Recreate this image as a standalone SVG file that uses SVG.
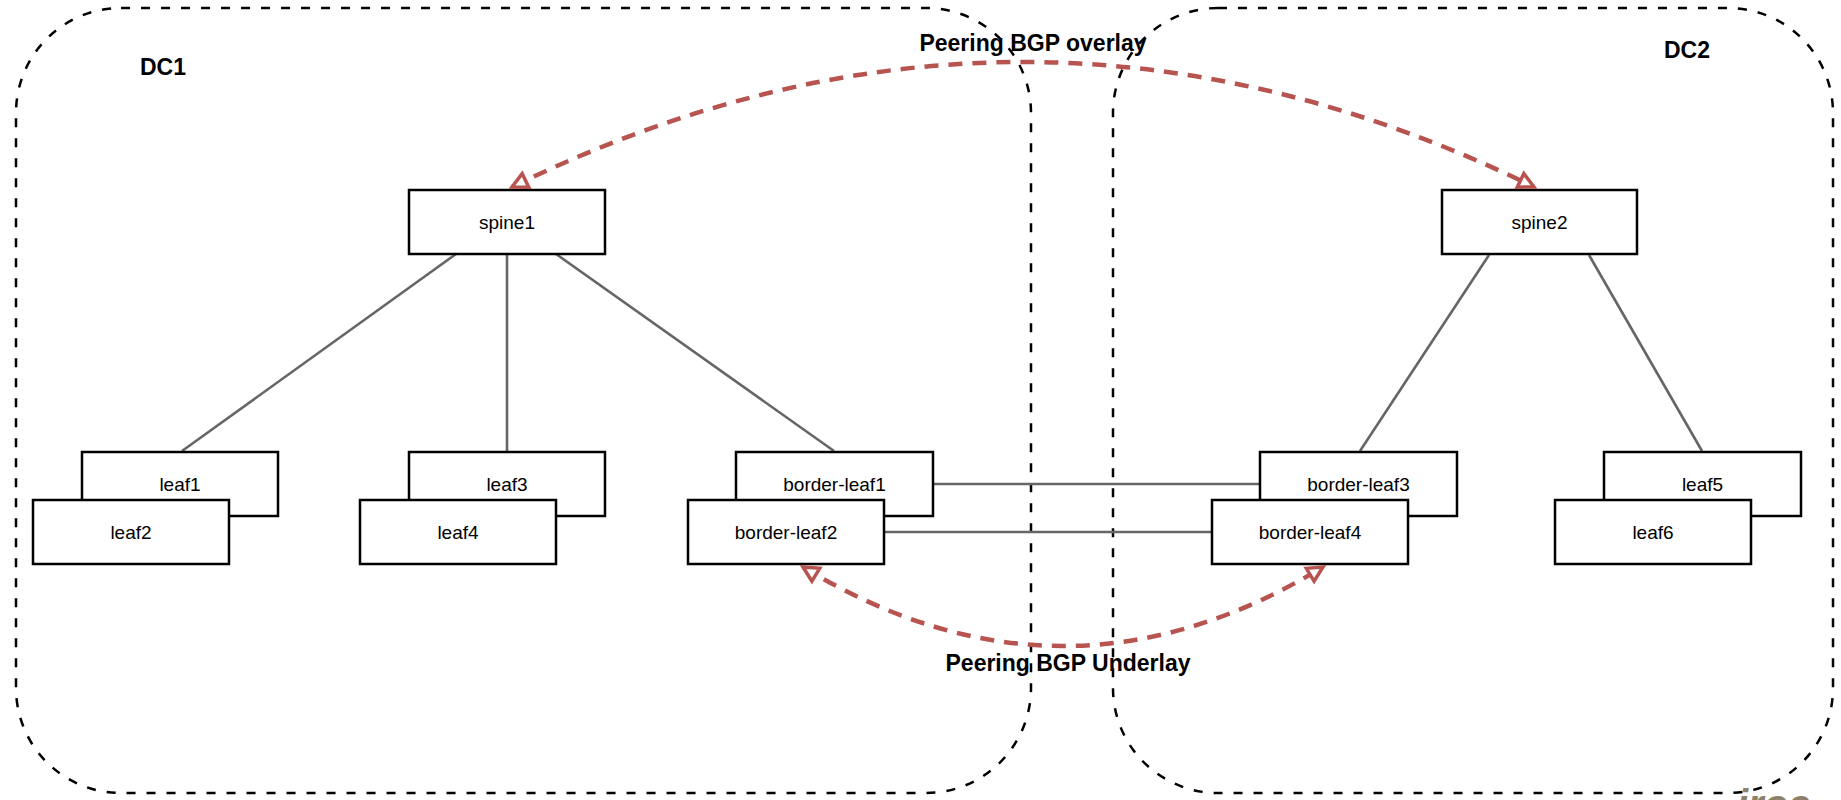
<svg xmlns="http://www.w3.org/2000/svg" width="1841" height="800" viewBox="0 0 1841 800">
<style>
.dc{fill:none;stroke:#000;stroke-width:2.5;stroke-dasharray:9 11}
.dcl{font-family:"Liberation Sans",Arial,sans-serif;font-size:23px;font-weight:bold;fill:#000}
.box{fill:#fff;stroke:#000;stroke-width:2.5}
.lbl{font-family:"Liberation Sans",Arial,sans-serif;font-size:19px;fill:#000;text-anchor:middle}
.link{fill:none;stroke:#666;stroke-width:2.6}
.peer{fill:none;stroke:#b85450;stroke-width:4.5;stroke-dasharray:14 10;marker-start:url(#ah);marker-end:url(#ah)}
.plbl{font-family:"Liberation Sans",Arial,sans-serif;font-size:23px;font-weight:bold;fill:#000;text-anchor:middle}
</style>
<defs>
<marker id="ah" markerUnits="userSpaceOnUse" markerWidth="24" markerHeight="24" viewBox="0 0 24 24" refX="19" refY="12" orient="auto-start-reverse">
<path d="M4,4.5 L19,12 L4,19.5 Z" fill="#fff" stroke="#b85450" stroke-width="3.5"/>
</marker>
</defs>
<g id="containers">
<g id="dc1"><rect class="dc" x="16" y="8" width="1015" height="785" rx="105" ry="105"/><text class="dcl" x="140" y="75">DC1</text></g>
<g id="dc2"><rect class="dc" x="1113" y="8" width="720" height="785" rx="105" ry="105"/><text class="dcl" x="1664" y="58">DC2</text></g>
</g>
<g id="links">
<line class="link" x1="456" y1="254" x2="182" y2="451"/>
<line class="link" x1="507" y1="254" x2="507" y2="451"/>
<line class="link" x1="556" y1="254" x2="834" y2="451"/>
<line class="link" x1="1489" y1="255" x2="1360" y2="451"/>
<line class="link" x1="1589" y1="255" x2="1702" y2="451"/>
<line class="link" x1="934" y1="484" x2="1260" y2="484"/>
<line class="link" x1="884" y1="532" x2="1212" y2="532"/>
</g>
<g id="nodes">
<g id="spine1"><rect class="box" x="409" y="190" width="196" height="64"/><text class="lbl" x="507" y="229">spine1</text></g>
<g id="spine2"><rect class="box" x="1442" y="190" width="195" height="64"/><text class="lbl" x="1539.5" y="229">spine2</text></g>
<g id="leaf1"><rect class="box" x="82" y="452" width="196" height="64"/><text class="lbl" x="180" y="491">leaf1</text></g>
<g id="leaf2"><rect class="box" x="33" y="500" width="196" height="64"/><text class="lbl" x="131" y="539">leaf2</text></g>
<g id="leaf3"><rect class="box" x="409" y="452" width="196" height="64"/><text class="lbl" x="507" y="491">leaf3</text></g>
<g id="leaf4"><rect class="box" x="360" y="500" width="196" height="64"/><text class="lbl" x="458" y="539">leaf4</text></g>
<g id="border-leaf1"><rect class="box" x="736" y="452" width="197" height="64"/><text class="lbl" x="834.5" y="491">border-leaf1</text></g>
<g id="border-leaf2"><rect class="box" x="688" y="500" width="196" height="64"/><text class="lbl" x="786" y="539">border-leaf2</text></g>
<g id="border-leaf3"><rect class="box" x="1260" y="452" width="197" height="64"/><text class="lbl" x="1358.5" y="491">border-leaf3</text></g>
<g id="border-leaf4"><rect class="box" x="1212" y="500" width="196" height="64"/><text class="lbl" x="1310" y="539">border-leaf4</text></g>
<g id="leaf5"><rect class="box" x="1604" y="452" width="197" height="64"/><text class="lbl" x="1702.5" y="491">leaf5</text></g>
<g id="leaf6"><rect class="box" x="1555" y="500" width="196" height="64"/><text class="lbl" x="1653" y="539">leaf6</text></g>
</g>
<g id="peerings">
<path class="peer" d="M512,187 Q1023,-63 1534,187"/>
<text class="plbl" x="1033" y="51">Peering BGP overlay</text>
<path class="peer" d="M803,567 Q1063,725 1323,567"/>
<text class="plbl" x="1068" y="671">Peering BGP Underlay</text>
</g>
<text x="1737" y="818" font-family="Liberation Sans, Arial, sans-serif" font-size="40" font-weight="bold" font-style="italic" fill="#8c8068">iroc</text>
</svg>
